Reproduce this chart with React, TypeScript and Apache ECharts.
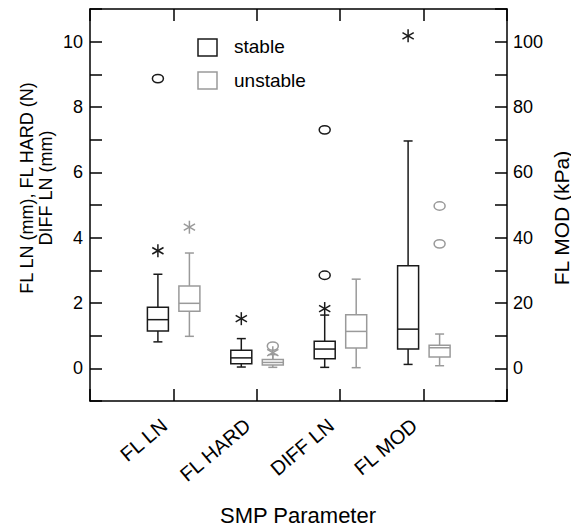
import React, { useEffect, useRef } from 'react';
import * as echarts from 'echarts';

const categories = ['FL LN', 'FL HARD', 'DIFF LN', 'FL MOD'];
// box statistics: [lower whisker, Q1, median, Q3, upper whisker]
const stableBoxes = [
  [0.81, 1.14, 1.49, 1.87, 2.88],
  [0.04, 0.14, 0.32, 0.55, 0.91],
  [0.03, 0.29, 0.59, 0.83, 1.63],
];
const unstableBoxes = [
  [0.98, 1.75, 1.99, 2.52, 3.53],
  [0.03, 0.1, 0.18, 0.27, 0.42],
  [0.02, 0.62, 1.13, 1.64, 2.73],
];
// FL MOD in kPa (right axis)
const stableModBox = [1.2, 5.9, 12.0, 31.4, 69.6];
const unstableModBox = [0.8, 3.5, 6.3, 7.1, 10.5];
// outliers: [category index, value]
const stableStars = [[0, 3.6], [1, 1.52], [2, 1.83]];
const stableCircles = [[0, 8.87], [2, 2.85], [2, 7.3]];
const stableModStars = [[3, 101.8]];
const unstableStars = [[0, 4.32], [1, 0.48]];
const unstableCircles = [[1, 0.68]];
const unstableModCircles = [[3, 49.7], [3, 38.1]];

const STABLE = '#1a1a1a';
const UNSTABLE = '#9a9a9a';
const FONT = '"Liberation Sans", Arial, Helvetica, sans-serif';
const BOX_W = 21;
const CAP_W = 9;
const OFF_S = -15.5;
const OFF_U = 16;

function boxRenderer(color: string, offset: number) {
  return (params: any, api: any) => {
    const x = api.value(0);
    const lo = api.coord([x, api.value(1)]);
    const q1 = api.coord([x, api.value(2)]);
    const md = api.coord([x, api.value(3)]);
    const q3 = api.coord([x, api.value(4)]);
    const hi = api.coord([x, api.value(5)]);
    const cx = lo[0] + offset;
    const st = { stroke: color, lineWidth: 1.5, fill: 'none' };
    return {
      type: 'group',
      children: [
        { type: 'line', shape: { x1: cx, y1: hi[1], x2: cx, y2: q3[1] }, style: st },
        { type: 'line', shape: { x1: cx, y1: q1[1], x2: cx, y2: lo[1] }, style: st },
        { type: 'line', shape: { x1: cx - CAP_W / 2, y1: hi[1], x2: cx + CAP_W / 2, y2: hi[1] }, style: st },
        { type: 'line', shape: { x1: cx - CAP_W / 2, y1: lo[1], x2: cx + CAP_W / 2, y2: lo[1] }, style: st },
        { type: 'rect', shape: { x: cx - BOX_W / 2, y: q3[1], width: BOX_W, height: q1[1] - q3[1] }, style: st },
        { type: 'line', shape: { x1: cx - BOX_W / 2, y1: md[1], x2: cx + BOX_W / 2, y2: md[1] }, style: st },
      ],
    };
  };
}

function markRenderer(color: string, offset: number, kind: 'star' | 'circle') {
  return (params: any, api: any) => {
    const p = api.coord([api.value(0), api.value(1)]);
    const cx = p[0] + offset;
    const cy = p[1];
    const st = { stroke: color, lineWidth: 1.5, fill: 'none' };
    if (kind === 'circle') {
      return { type: 'ellipse', shape: { cx, cy, rx: 5.5, ry: 4.2 }, style: st };
    }
    const r = 6.5;
    const dx = r * Math.cos(Math.PI / 6);
    const dy = r * Math.sin(Math.PI / 6);
    return {
      type: 'group',
      children: [
        { type: 'line', shape: { x1: cx, y1: cy - r, x2: cx, y2: cy + r }, style: st },
        { type: 'line', shape: { x1: cx - dx, y1: cy - dy, x2: cx + dx, y2: cy + dy }, style: st },
        { type: 'line', shape: { x1: cx - dx, y1: cy + dy, x2: cx + dx, y2: cy - dy }, style: st },
      ],
    };
  };
}

export default function App() {
  const ref = useRef<HTMLDivElement>(null);
  useEffect(() => {
    if (!ref.current) return;
    const chart = echarts.init(ref.current, null, { renderer: 'svg' });
    const axisLine = { show: true, onZero: false, lineStyle: { color: '#000', width: 1.5 } };
    const tick = { show: true, inside: true, length: 12, lineStyle: { color: '#000', width: 1.5 } };
    const boxSeries = (data: number[][], yIdx: number, color: string, off: number) => ({
      type: 'custom',
      xAxisIndex: 0,
      yAxisIndex: yIdx,
      renderItem: boxRenderer(color, off),
      encode: { x: 0, y: [1, 2, 3, 4, 5] },
      data,
      silent: true,
    });
    const markSeries = (data: number[][], yIdx: number, color: string, off: number, kind: 'star' | 'circle') => ({
      type: 'custom',
      xAxisIndex: 0,
      yAxisIndex: yIdx,
      renderItem: markRenderer(color, off, kind),
      encode: { x: 0, y: 1 },
      data: data.map((d) => [d[0] + 1, d[1]]),
      silent: true,
    });
    const option: any = {
      animation: false,
      grid: { left: 90, right: 64, top: 9, bottom: 125 },
      xAxis: [
        {
          type: 'value',
          min: 0,
          max: 5,
          interval: 1,
          position: 'bottom',
          axisLine,
          axisTick: tick,
          splitLine: { show: false },
          axisLabel: {
            rotate: 40,
            margin: 14,
            padding: [0, 12, 0, 0],
            fontSize: 20,
            fontFamily: FONT,
            color: '#000',
            formatter: (v: number) => (v >= 1 && v <= 4 ? categories[v - 1] : ''),
          },
        },
        {
          type: 'value',
          min: 0,
          max: 5,
          interval: 1,
          position: 'top',
          axisLine,
          axisTick: tick,
          splitLine: { show: false },
          axisLabel: { show: false },
        },
      ],
      yAxis: [
        {
          type: 'value',
          min: -1,
          max: 11,
          interval: 1,
          position: 'left',
          axisLine,
          axisTick: tick,
          splitLine: { show: false },
          axisLabel: {
            margin: 7,
            fontSize: 18,
            fontFamily: FONT,
            color: '#000',
            formatter: (v: number) => (v >= 0 && v <= 10 && v % 2 === 0 ? String(v) : ''),
          },
        },
        {
          type: 'value',
          min: -10,
          max: 110,
          interval: 10,
          position: 'right',
          axisLine,
          axisTick: tick,
          splitLine: { show: false },
          axisLabel: {
            margin: 6,
            fontSize: 18,
            fontFamily: FONT,
            color: '#000',
            formatter: (v: number) => (v >= 0 && v <= 100 && v % 20 === 0 ? String(v) : ''),
          },
        },
      ],
      graphic: [
        { type: 'rect', shape: { x: 198, y: 39, width: 19, height: 17 }, style: { fill: 'none', stroke: STABLE, lineWidth: 1.5 } },
        { type: 'rect', shape: { x: 198, y: 72, width: 19, height: 17 }, style: { fill: 'none', stroke: UNSTABLE, lineWidth: 1.5 } },
        { type: 'text', x: 234, y: 46, style: { text: 'stable', fontSize: 19, fontFamily: FONT, fill: '#000', verticalAlign: 'middle' } },
        { type: 'text', x: 234, y: 80, style: { text: 'unstable', fontSize: 19, fontFamily: FONT, fill: '#000', verticalAlign: 'middle' } },
        {
          type: 'text',
          x: 36,
          y: 188,
          rotation: Math.PI / 2,
          style: {
            text: 'FL LN (mm), FL HARD (N)\nDIFF LN (mm)',
            fontSize: 18,
            lineHeight: 19,
            fontFamily: FONT,
            fill: '#000',
            align: 'center',
            verticalAlign: 'middle',
          },
        },
        {
          type: 'text',
          x: 561,
          y: 218,
          rotation: Math.PI / 2,
          style: { text: 'FL MOD (kPa)', fontSize: 21, fontFamily: FONT, fill: '#000', align: 'center', verticalAlign: 'middle' },
        },
        {
          type: 'text',
          x: 298,
          y: 515,
          style: { text: 'SMP Parameter', fontSize: 22, fontFamily: FONT, fill: '#000', align: 'center', verticalAlign: 'middle' },
        },
      ],
      series: [
        boxSeries(stableBoxes.map((b, i) => [i + 1, ...b]), 0, STABLE, OFF_S),
        boxSeries(unstableBoxes.map((b, i) => [i + 1, ...b]), 0, UNSTABLE, OFF_U),
        boxSeries([[4, ...stableModBox]], 1, STABLE, OFF_S),
        boxSeries([[4, ...unstableModBox]], 1, UNSTABLE, OFF_U),
        markSeries(stableStars, 0, STABLE, OFF_S, 'star'),
        markSeries(stableCircles, 0, STABLE, OFF_S, 'circle'),
        markSeries(stableModStars, 1, STABLE, OFF_S, 'star'),
        markSeries(unstableStars, 0, UNSTABLE, OFF_U, 'star'),
        markSeries(unstableCircles, 0, UNSTABLE, OFF_U, 'circle'),
        markSeries(unstableModCircles, 1, UNSTABLE, OFF_U, 'circle'),
      ],
    };
    chart.setOption(option);
    return () => chart.dispose();
  }, []);
  return <div ref={ref} style={{ width: 571, height: 526, position: 'absolute', left: 0, top: 0 }} />;
}
